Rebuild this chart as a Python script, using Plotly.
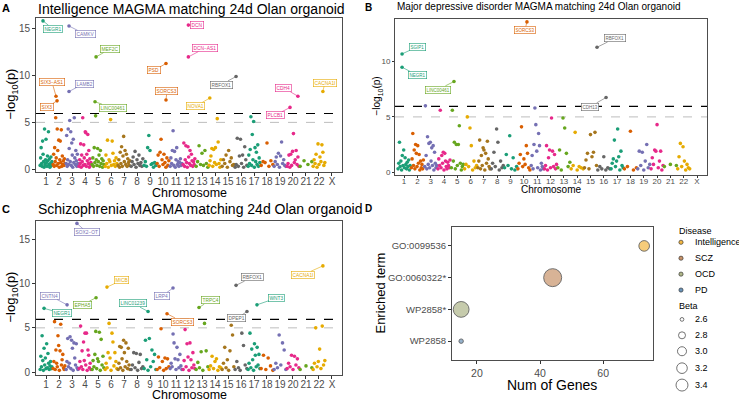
import plotly.graph_objects as go

W, H = 739, 402
FONT = "Liberation Sans, Arial, sans-serif"

CHROMS = [str(i) for i in range(1, 23)] + ["X"]
PALETTE = ["#1B9E77", "#D95F02", "#7570B3", "#E7298A", "#66A61E", "#E6AB02", "#A6761D", "#666666"]

# ---------------- Panel A: Intelligence (-log10 p per gene, by chromosome) ----------------
intel_bulk = [
    [0.4, 1.2, 2.3, 0.6, 0.3, 3.0, 1.6, 0.8, 0.2, 4.3, 0.5, 1.0, 3.2, 0.7, 0.3, 1.4, 0.9, 4.0, 0.5, 1.1, 0.2, 0.6, 1.3, 0.4, 0.8],
    [0.5, 1.6, 0.3, 2.3, 0.8, 5.5, 1.2, 0.4, 4.3, 2.0, 0.6, 3.1, 0.2, 1.0, 3.0, 0.7, 4.2, 0.3, 1.4, 0.5, 0.9, 0.4, 1.1, 0.6],
    [0.6, 3.6, 0.3, 1.0, 4.3, 0.5, 2.2, 5.2, 0.8, 4.0, 0.4, 2.8, 1.5, 0.2, 3.2, 0.7, 5.5, 1.2, 0.5, 2.0, 0.9, 0.3, 1.6, 0.6],
    [0.3, 1.0, 0.6, 2.7, 0.2, 1.5, 0.8, 5.5, 0.4, 2.6, 1.2, 0.5, 4.0, 3.9, 0.3, 1.6, 0.9, 3.7, 0.6, 2.0, 0.2, 1.1, 0.4, 0.7],
    [0.5, 1.2, 0.3, 2.3, 0.7, 5.7, 1.0, 0.4, 2.2, 0.8, 1.5, 0.3, 2.0, 0.6, 1.1, 0.2, 0.9, 0.5],
    [0.3, 1.5, 0.6, 3.1, 0.2, 1.0, 0.8, 5.3, 0.4, 3.0, 1.7, 0.5, 0.9, 0.3, 1.2, 0.6],
    [0.4, 1.0, 0.2, 1.8, 0.6, 2.4, 0.3, 1.4, 3.5, 0.8, 2.0, 0.5, 1.6, 0.3, 1.1, 0.7, 0.4, 0.9],
    [0.3, 0.8, 1.3, 0.5, 1.9, 0.2, 1.0, 0.6, 1.5, 0.4, 0.7, 0.3, 1.1],
    [0.4, 0.8, 0.3, 2.3, 3.6, 2.0, 0.5, 0.6, 0.2, 0.7, 0.4],
    [0.6, 1.5, 0.3, 1.8, 3.2, 1.0, 0.5, 1.6, 0.7, 0.2, 1.2, 0.4, 0.9],
    [0.3, 1.2, 0.6, 2.0, 4.1, 0.4, 1.9, 0.2, 1.0, 2.3, 0.5, 0.8, 0.3, 0.7, 1.1, 0.4, 0.6],
    [0.5, 2.8, 0.3, 1.0, 2.5, 0.7, 0.2, 2.4, 1.3, 0.6, 2.0, 0.4, 1.6, 0.9, 0.3, 0.8, 0.5, 1.1],
    [0.3, 0.8, 2.5, 0.5, 1.7, 0.4, 2.0, 0.6, 0.2],
    [0.4, 0.9, 1.4, 2.2, 0.3, 2.1, 0.7, 2.3, 0.5, 5.4, 2.9, 0.6, 0.2, 1.0],
    [0.3, 1.0, 0.6, 1.5, 0.2, 2.0, 0.8, 1.2, 0.4, 0.5],
    [0.2, 0.5, 3.3, 0.3, 1.4, 3.2, 0.6, 1.5, 0.2, 2.4, 1.0, 0.4],
    [0.3, 1.5, 0.6, 2.1, 5.6, 0.4, 3.7, 1.0, 5.1, 0.2, 2.3, 0.8, 1.8, 0.5, 2.6, 0.3, 1.2, 0.7],
    [0.4, 0.8, 0.7, 2.8, 0.3, 0.9, 0.5],
    [0.3, 0.8, 1.3, 0.5, 1.7, 0.2, 1.4, 2.9, 0.6, 1.0, 0.4, 0.3],
    [0.3, 0.6, 1.5, 0.2, 1.6, 0.4, 1.9, 3.8, 0.7, 1.0, 2.0, 0.5, 1.3, 0.3],
    [0.3, 0.9, 0.5, 0.8],
    [0.3, 1.0, 0.6, 1.6, 0.2, 2.7, 0.5, 1.3, 0.8, 2.6, 1.8, 0.4, 0.7],
    [],
]
intel_genes = ["NEGR1", "CAMKV", "MEF2C", "PSD", "SIX3\u2212AS1", "LAMB2", "SORCS3", "DCN", "DCN\u2212AS1",
               "RBFOX1", "CDH4", "CACNA1I", "NOVA1", "SIX3", "LINC00461", "PLCB1"]
intel_gene_chr = [1, 3, 5, 10, 2, 3, 10, 12, 12, 16, 20, 22, 14, 2, 5, 20]
intel_gene_pos = [0.77, 2.77, 4.85, 10.23, 1.77, 2.77, 10.23, 11.95, 11.95, 15.62, 20.38, 22.3, 13.6, 1.85, 4.77, 19.77]
intel_gene_logp = [15.85, 15.3, 12.0, 11.3, 7.8, 8.3, 7.4, 15.4, 12.0, 9.9, 7.8, 8.3, 7.6, 7.3, 7.2, 6.6]
intel_label_offset = [(10, 8), (16, 8), (14, -8), (-12, 7), (-4, -14), (15, -8), (1, -9), (9, 0), (17, -9),
                      (-15, 8), (-14, -8), (2, -9), (-14, 8), (-10, 6), (18, 6), (-15, 8)]

# ---------------- Panel B: Major depressive disorder ----------------
mdd_bulk = [
    [0.3, 0.8, 2.7, 0.5, 1.0, 0.2, 1.5, 0.6, 2.0, 0.4, 1.3, 0.7, 0.3, 0.9, 0.5, 1.1, 0.2, 0.6],
    [0.4, 1.2, 3.5, 0.6, 2.0, 0.3, 2.5, 1.7, 0.5, 2.4, 0.8, 1.6, 0.2, 1.0, 0.4, 0.7, 0.3, 1.1],
    [0.5, 6.0, 1.5, 0.3, 3.2, 0.7, 2.6, 0.4, 2.7, 1.0, 2.2, 0.6, 2.4, 0.2, 1.8, 0.8, 0.4, 0.6],
    [0.3, 1.2, 0.6, 5.6, 0.4, 1.5, 0.8, 1.8, 0.2, 1.7, 1.0, 0.5, 0.3, 0.9, 0.6, 0.4, 1.1],
    [0.4, 5.6, 1.0, 2.7, 0.3, 2.5, 0.6, 2.5, 4.2, 0.8, 0.2, 0.5, 0.7],
    [0.3, 0.7, 5.0, 0.5, 4.0, 2.4, 0.2, 1.0, 0.4, 0.6],
    [0.4, 1.0, 2.9, 0.3, 1.5, 0.6, 2.2, 2.0, 0.2, 1.7, 0.8, 2.8, 1.2, 0.5, 0.3],
    [0.3, 0.8, 1.8, 0.5, 3.9, 2.7, 0.2, 1.0, 0.4, 0.6],
    [0.4, 1.6, 0.6, 3.3, 0.3, 1.3, 0.2, 0.5],
    [0.3, 0.8, 1.6, 4.1, 0.5, 1.2, 0.7, 2.4, 1.7, 0.4, 0.2],
    [0.6, 1.5, 0.3, 2.5, 5.8, 4.3, 1.9, 0.4, 3.5, 2.4, 0.2, 0.8, 0.5, 0.3],
    [0.3, 0.6, 2.4, 0.2, 1.3, 2.0, 0.4, 4.9, 1.9, 0.5, 1.6, 0.3, 0.7],
    [0.4, 2.0, 0.2, 4.9, 4.0, 1.7, 0.5, 0.9],
    [0.3, 0.6, 3.6, 0.2, 0.5, 0.4, 0.3],
    [0.4, 1.1, 1.7, 0.3, 3.4, 1.4, 1.8, 3.6, 0.6],
    [0.2, 0.5, 0.3, 1.4, 0.2, 0.4, 0.3],
    [0.3, 0.8, 1.2, 2.9, 0.5, 1.0, 3.9, 1.4, 0.2, 1.9, 0.6, 0.4],
    [0.3, 0.5, 3.7, 0.2, 0.4],
    [0.3, 1.9, 0.6, 1.8, 0.2, 1.0, 2.5, 0.4, 0.7],
    [0.3, 1.3, 0.7, 2.0, 1.9, 4.3, 0.4, 1.0, 1.9, 0.2, 0.6],
    [0.5, 0.7, 0.6],
    [0.3, 1.4, 2.6, 0.5, 2.3, 1.0, 0.2, 0.7, 0.4, 0.3],
    [],
]
mdd_genes = ["SGIP1", "NEGR1", "LINC00461", "SORCS3", "RBFOX1", "CDH13"]
mdd_gene_chr = [1, 1, 5, 10, 16, 16]
mdd_gene_pos = [0.85, 0.85, 4.75, 10.23, 15.49, 16.17]
mdd_gene_logp = [10.7, 9.5, 8.2, 13.6, 11.3, 6.75]
mdd_label_offset = [(15, -7), (15, 8), (-16, 8), (-2, 8), (18, -9), (-16, 9)]

# ---------------- Panel C: Schizophrenia ----------------
scz_bulk = [
    [0.3, 1.8, 0.6, 4.1, 1.3, 0.2, 2.7, 0.8, 1.6, 0.4, 3.2, 0.5, 2.1, 1.0, 0.3, 0.7, 1.2, 0.4, 0.6],
    [0.4, 1.2, 5.7, 0.3, 2.5, 1.0, 0.6, 4.1, 3.0, 0.2, 2.4, 5.4, 0.8, 1.4, 2.0, 0.5, 0.3, 0.7],
    [0.3, 1.2, 3.8, 0.6, 1.0, 4.0, 0.4, 3.6, 2.7, 0.2, 3.3, 1.6, 0.8, 3.2, 0.5, 0.3],
    [0.4, 1.2, 5.2, 0.6, 2.4, 0.3, 3.4, 1.3, 4.4, 0.8, 4.4, 0.2, 2.5, 1.9, 0.5, 1.0, 0.3],
    [0.3, 1.3, 0.6, 2.0, 4.6, 0.4, 1.5, 1.2, 4.5, 0.2, 3.7, 0.8, 1.8, 0.5],
    [0.3, 1.0, 0.5, 2.2, 5.5, 1.6, 0.2, 4.4, 3.4, 0.7, 2.2, 1.2, 0.4],
    [0.3, 1.0, 2.9, 0.5, 2.8, 1.5, 0.2, 3.6, 2.2, 0.6, 3.3, 1.2, 0.4, 2.7, 0.8, 0.3],
    [0.3, 0.8, 2.2, 0.5, 2.1, 0.2, 1.1, 2.0, 0.4, 0.6],
    [0.4, 3.6, 1.4, 0.2, 3.8, 0.6, 2.5, 1.2, 2.0, 0.3],
    [0.3, 1.7, 0.5, 4.9, 1.2, 0.2, 1.6, 0.4, 1.5, 0.6],
    [0.4, 1.0, 0.6, 4.3, 3.3, 1.5, 0.3, 2.8, 1.4, 0.5, 2.0, 0.7, 0.3],
    [0.3, 1.3, 4.8, 0.6, 3.2, 1.7, 0.2, 3.3, 1.4, 0.5, 2.2, 0.8, 0.4],
    [0.3, 1.1, 0.5, 2.3, 0.2, 5.5, 2.4, 0.6],
    [0.3, 0.7, 1.8, 0.4, 1.2, 1.5, 0.2, 0.6, 0.5],
    [0.3, 1.0, 2.8, 0.5, 1.4, 0.2, 2.4, 5.3, 4.2, 0.6],
    [0.3, 1.2, 0.5, 0.2, 4.4, 3.0, 0.8, 0.4],
    [0.3, 1.0, 4.4, 0.5, 2.6, 1.4, 0.2, 3.2, 1.9, 0.6, 2.8, 0.8, 2.0, 0.4],
    [0.4, 1.9, 0.3, 1.6, 0.7, 0.2],
    [0.3, 1.0, 0.5, 4.2, 0.8, 3.3, 2.5, 0.3],
    [0.4, 1.0, 0.6, 1.9, 0.3, 1.8, 0.8, 1.5, 0.5],
    [0.3, 0.7, 0.5],
    [0.3, 1.0, 5.0, 0.6, 1.2, 2.6, 0.4, 5.2, 0.8, 1.3],
    [],
]
scz_genes = ["SOX2\u2212OT", "MICB", "CNTN4", "LRP4", "EPHA5", "NEGR1", "LINC01239", "SORCS3", "TRPC4",
             "DPEP1", "WNT3", "RBFOX1", "CACNA1I"]
scz_gene_chr = [3, 6, 3, 11, 5, 1, 9, 10, 13, 16, 17, 16, 22]
scz_gene_pos = [3.38, 5.69, 2.62, 10.77, 4.85, 0.85, 8.85, 10.31, 12.77, 16.46, 17.23, 15.62, 22.3]
scz_gene_logp = [16.8, 9.6, 7.6, 9.5, 8.4, 7.2, 6.85, 6.6, 7.3, 6.85, 7.6, 9.8, 12.0]
scz_label_offset = [(10, 9), (15, -7), (-17, -9), (-11, 8), (-14, 7), (18, 5), (-15, -8), (15, 8), (11, -7),
                    (-10, 7), (20, -7), (16, -8), (-20, 9)]

SIG_STRICT = 5.95
SIG_SUGGEST = 5.0

# ---------------- Panel D: enrichment ----------------
terms = ["GO:0099536", "GO:0060322*", "WP2858*", "WP2858"]
num_genes = [73, 44, 15, 15]
disease = ["Intelligence", "SCZ", "OCD", "PD"]
beta = [3.2, 4.6, 4.1, 2.63]
disease_levels = ["Intelligence", "SCZ", "OCD", "PD"]
disease_colors = {"Intelligence": "#F3B743", "SCZ": "#C8936A", "OCD": "#AFB689", "PD": "#6A93B8"}
beta_breaks = [2.6, 2.8, 3.0, 3.2, 3.4]


def beta_size(b):
    return 1.1 + 11.8 * max(b - 2.55, 0) ** 0.5


def px(x):
    return x / W


def py(y):
    return 1 - y / H


fig = go.Figure()
annotations = []


def manhattan(bulk, genes, gchr, gpos, glogp, offsets, xa, ya, lab_font):
    xs, ys, cs = [], [], []
    for ci, vals in enumerate(bulk):
        n = len(vals)
        for i, v in enumerate(vals):
            off = (i / (n - 1) - 0.5) * 0.9 if n > 1 else 0.0
            xs.append(ci + 1 + off)
            ys.append(v)
            cs.append(PALETTE[ci % 8])
    for g, c, p, v in zip(genes, gchr, gpos, glogp):
        xs.append(p)
        ys.append(v)
        cs.append(PALETTE[(c - 1) % 8])
    fig.add_trace(go.Scatter(x=xs, y=ys, mode="markers", xaxis=xa, yaxis=ya, showlegend=False,
                             hoverinfo="skip", marker=dict(size=3.6, color=cs, line=dict(width=0))))
    for g, c, p, v, (dx, dy) in zip(genes, gchr, gpos, glogp, offsets):
        col = PALETTE[(c - 1) % 8]
        annotations.append(dict(x=p, y=v, xref=xa, yref=ya, ax=dx, ay=dy, text=g, showarrow=True,
                                arrowhead=0, arrowwidth=0.6, arrowcolor=col, standoff=0,
                                font=dict(size=lab_font, color=col, family=FONT), bgcolor="white",
                                bordercolor=col, borderwidth=0.6, borderpad=1))
    sfx_x = "" if xa == "x" else xa[1:]
    for yv, colr, w, dash in [(SIG_STRICT, "black", 1.2, "dash"), (SIG_SUGGEST, "#BDBDBD", 1.0, "dash")]:
        fig.add_shape(type="line", xref=f"x{sfx_x} domain", x0=0, x1=1, yref=ya, y0=yv, y1=yv,
                      line=dict(color=colr, width=w, dash=dash), layer="below")


manhattan(intel_bulk, intel_genes, intel_gene_chr, intel_gene_pos, intel_gene_logp, intel_label_offset, "x", "y", 4.8)
manhattan(mdd_bulk, mdd_genes, mdd_gene_chr, mdd_gene_pos, mdd_gene_logp, mdd_label_offset, "x2", "y2", 4.5)
manhattan(scz_bulk, scz_genes, scz_gene_chr, scz_gene_pos, scz_gene_logp, scz_label_offset, "x3", "y3", 4.8)

# Panel D bubbles
for d in disease_levels:
    idx = [i for i, dd in enumerate(disease) if dd == d]
    fig.add_trace(go.Scatter(
        x=[num_genes[i] for i in idx], y=[terms[i] for i in idx], mode="markers", xaxis="x4", yaxis="y4",
        showlegend=False, hoverinfo="skip",
        marker=dict(size=[beta_size(beta[i]) for i in idx], color=disease_colors[d],
                    line=dict(color="#222222", width=0.9))))

# Custom legend for panel D (drawn on an overlay axis in pixel units)
leg_x_dot = 681
dis_y = [243.5, 259.5, 275.5, 291.5]
beta_y = [321, 337, 353, 370, 387]
fig.add_trace(go.Scatter(x=[leg_x_dot] * len(disease_levels), y=dis_y, mode="markers", xaxis="x5", yaxis="y5",
                         showlegend=False, hoverinfo="skip",
                         marker=dict(size=4.2, color=[disease_colors[d] for d in disease_levels],
                                     line=dict(color="#222222", width=0.6))))
fig.add_trace(go.Scatter(x=[leg_x_dot + 1] * len(beta_breaks), y=beta_y, mode="markers", xaxis="x5", yaxis="y5",
                         showlegend=False, hoverinfo="skip",
                         marker=dict(size=[beta_size(b) for b in beta_breaks], color="white",
                                     line=dict(color="#222222", width=0.9))))
annotations.append(dict(x=px(677), y=py(232), xref="paper", yref="paper", text="Disease", showarrow=False,
                        xanchor="left", yanchor="middle", font=dict(size=9, color="black", family=FONT)))
for d, yy in zip(disease_levels, dis_y):
    annotations.append(dict(x=px(693), y=py(yy), xref="paper", yref="paper", text=d, showarrow=False,
                            xanchor="left", yanchor="middle", font=dict(size=9, color="black", family=FONT)))
annotations.append(dict(x=px(677), y=py(308), xref="paper", yref="paper", text="Beta", showarrow=False,
                        xanchor="left", yanchor="middle", font=dict(size=9, color="black", family=FONT)))
for b, yy in zip(beta_breaks, beta_y):
    annotations.append(dict(x=px(693), y=py(yy), xref="paper", yref="paper", text=f"{b:.1f}", showarrow=False,
                            xanchor="left", yanchor="middle", font=dict(size=9, color="black", family=FONT)))

# Titles and axis titles
def txt(x, y, s, size, bold=False, angle=0, xanchor="center"):
    annotations.append(dict(x=px(x), y=py(y), xref="paper", yref="paper", text=f"<b>{s}</b>" if bold else s,
                            showarrow=False, textangle=angle, xanchor=xanchor, yanchor="middle",
                            font=dict(size=size, color="black", family=FONT)))

txt(6, 8, "A", 11, bold=True)
txt(36, 9, "Intelligence MAGMA matching 24d Olan organoid", 14, xanchor="left")
txt(368, 8, "B", 10, bold=True)
txt(395, 7, "Major depressive disorder MAGMA matching 24d Olan organoid", 10, xanchor="left")
txt(6, 210, "C", 11, bold=True)
txt(36, 210, "Schizophrenia MAGMA matching 24d Olan organoid", 14, xanchor="left")
txt(368, 210, "D", 10, bold=True)

YT = "\u2212log<sub>10</sub>(p)"
txt(12, 95, YT, 13, angle=-90)
txt(377, 97, YT, 10, angle=-90)
txt(12, 299, YT, 13, angle=-90)
txt(189, 193.5, "Chromosome", 12.5)
txt(551, 190, "Chromosome", 10)
txt(189, 396.5, "Chromosome", 12.5)
txt(381, 295, "Enriched term", 13, angle=-90)
txt(552, 387, "Num of Genes", 14)

AXLINE = "#4D4D4D"
TICKC = "#4D4D4D"


def base_axis(domain, rng, anchor, tickfont, **kw):
    d = dict(domain=domain, range=rng, anchor=anchor, showgrid=False, zeroline=False, showline=True,
             mirror=True, linecolor=AXLINE, linewidth=1, ticks="outside", ticklen=3, tickwidth=1,
             tickcolor="#333333", tickfont=dict(size=tickfont, color=TICKC, family=FONT))
    d.update(kw)
    return d


chrom_ticks = dict(tickmode="array", tickvals=list(range(1, 24)), ticktext=CHROMS, tickangle=0)

fig.update_layout(
    width=W, height=H, margin=dict(l=0, r=0, t=0, b=0),
    paper_bgcolor="white", plot_bgcolor="rgba(0,0,0,0)",
    font=dict(family=FONT),
    xaxis=base_axis([px(36), px(342)], [0.23, 23.77], "y", 10, ticklabelstandoff=-3, **chrom_ticks),
    yaxis=base_axis([py(173), py(18)], [-0.32, 16.17], "x", 10, tickvals=[0, 5, 10, 15]),
    xaxis2=base_axis([px(395), px(707)], [0.32, 23.75], "y2", 8, ticklen=2, ticklabelstandoff=-4,
                     **chrom_ticks),
    yaxis2=base_axis([py(176), py(19)], [-0.27, 13.87], "x2", 8, ticklen=2, tickvals=[0, 5, 10]),
    xaxis3=base_axis([px(36), px(342)], [0.23, 23.77], "y3", 10, ticklabelstandoff=-3, **chrom_ticks),
    yaxis3=base_axis([py(377), py(222)], [-0.34, 17.08], "x3", 10, tickvals=[0, 5, 10, 15]),
    xaxis4=base_axis([px(452), px(653)], [12.1, 75.8], "y4", 10.5, tickvals=[20, 40, 60]),
    yaxis4=base_axis([py(362), py(228)], [-0.6, 3.6], "x4", 9.5, type="category",
                     categoryorder="array", categoryarray=terms[::-1]),
    xaxis5=dict(domain=[0, 1], range=[0, W], anchor="y5", visible=False, fixedrange=True),
    yaxis5=dict(domain=[0, 1], range=[H, 0], anchor="x5", visible=False, fixedrange=True),
    annotations=annotations,
)

fig.write_html("out.html", config={"displayModeBar": False},
               post_script="document.body.style.margin='0px';document.body.style.padding='0px';")
